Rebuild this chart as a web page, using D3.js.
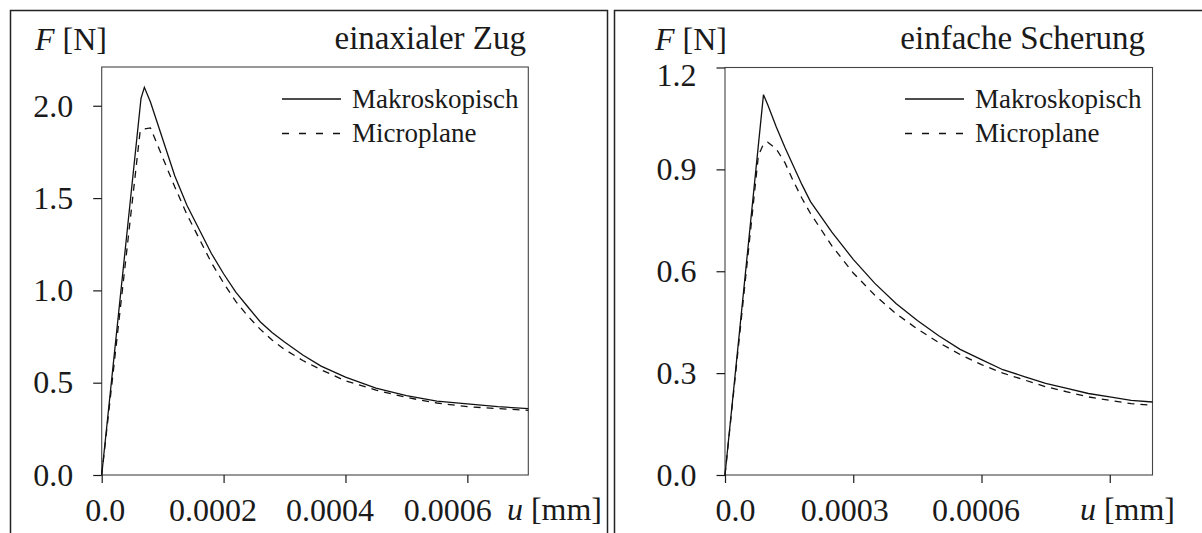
<!DOCTYPE html>
<html>
<head>
<meta charset="utf-8">
<script src="https://cdn.jsdelivr.net/npm/d3@7"></script>
<style>
  html, body { margin: 0; padding: 0; background: #fff; }
  svg { display: block; }
  text { font-family: "Liberation Serif", "Times New Roman", serif; fill: #1a1a1a; }
</style>
</head>
<body>
<svg id="chart" width="1202" height="533"></svg>
<script>
// Verschiebung u [mm] und Kraft F [N], einaxialer Zug
const zugU_makro = [0, 0.0000645, 0.00007, 0.00008, 0.00009, 0.0001, 0.00012, 0.00014, 0.00016, 0.00018,
  0.0002, 0.00022, 0.00024, 0.00026, 0.00028, 0.0003, 0.00033, 0.00036, 0.0004, 0.00045,
  0.0005, 0.00055, 0.0006, 0.00065, 0.0007];
const zugF_makro = [0, 2.04, 2.10, 2.02, 1.92, 1.82, 1.62, 1.46, 1.33, 1.20,
  1.09, 0.99, 0.91, 0.83, 0.77, 0.72, 0.65, 0.59, 0.53, 0.47,
  0.43, 0.40, 0.385, 0.37, 0.36];
const zugU_micro = [0, 0.000063, 0.00007, 0.00008, 0.00009, 0.0001, 0.00012, 0.00014, 0.00016, 0.00018,
  0.0002, 0.00022, 0.00024, 0.00026, 0.00028, 0.0003, 0.00033, 0.00036, 0.0004, 0.00045,
  0.0005, 0.00055, 0.0006, 0.00065, 0.0007];
const zugF_micro = [0, 1.86, 1.875, 1.88, 1.80, 1.72, 1.56, 1.41, 1.28, 1.15,
  1.04, 0.94, 0.86, 0.79, 0.73, 0.68, 0.62, 0.57, 0.51, 0.46,
  0.42, 0.39, 0.37, 0.36, 0.35];

// einfache Scherung
const scherU_makro = [0, 0.00009, 0.0001, 0.00012, 0.00014, 0.00016, 0.00018, 0.0002, 0.00025, 0.0003,
  0.00035, 0.0004, 0.00045, 0.0005, 0.00055, 0.0006, 0.00065, 0.0007, 0.00075, 0.0008,
  0.00085, 0.0009, 0.00095, 0.001];
const scherF_makro = [0, 1.12, 1.09, 1.025, 0.965, 0.91, 0.855, 0.805, 0.715, 0.635,
  0.565, 0.505, 0.455, 0.41, 0.37, 0.34, 0.31, 0.29, 0.27, 0.255,
  0.24, 0.23, 0.22, 0.215];
const scherU_micro = [0, 0.000078, 0.00009, 0.0001, 0.00012, 0.00014, 0.00016, 0.00018, 0.0002, 0.00025,
  0.0003, 0.00035, 0.0004, 0.00045, 0.0005, 0.00055, 0.0006, 0.00065, 0.0007, 0.00075,
  0.0008, 0.00085, 0.0009, 0.00095, 0.001];
const scherF_micro = [0, 0.94, 0.975, 0.98, 0.96, 0.92, 0.865, 0.815, 0.77, 0.675,
  0.595, 0.53, 0.475, 0.43, 0.39, 0.355, 0.325, 0.30, 0.28, 0.26,
  0.245, 0.23, 0.22, 0.21, 0.205];

// Achsenteilung
const zugUTicks = [0, 0.0002, 0.0004, 0.0006];
const zugUTickLabels = ["0.0", "0.0002", "0.0004", "0.0006"];
const zugFTicks = [0, 0.5, 1.0, 1.5, 2.0];
const zugFTickLabels = ["0.0", "0.5", "1.0", "1.5", "2.0"];
const scherUTicks = [0, 0.0003, 0.0006, 0.0009];
const scherUTickLabels = ["0.0", "0.0003", "0.0006", ""];
const scherFTicks = [0, 0.3, 0.6, 0.9, 1.2];
const scherFTickLabels = ["0.0", "0.3", "0.6", "0.9", "1.2"];

const seriesNames = ["Makroskopisch", "Microplane"];
const panelTitles = ["einaxialer Zug", "einfache Scherung"];

const svg = d3.select("#chart");
const ink = "#1a1a1a";
const serif = "Liberation Serif";

function drawPanel(p) {
  const g = svg.append("g");

  // outer frame of the panel
  g.append("rect")
    .attr("x", p.frame[0]).attr("y", 10.5)
    .attr("width", p.frame[1] - p.frame[0]).attr("height", 560)
    .attr("fill", "none").attr("stroke", "#222").attr("stroke-width", 1.5);

  const x = d3.scaleLinear().domain(p.xDomain).range(p.xRange);
  const y = d3.scaleLinear().domain(p.yDomain).range(p.yRange);

  // plot box
  g.append("rect")
    .attr("x", x(p.xDomain[0])).attr("y", y(p.yDomain[1]))
    .attr("width", x(p.xDomain[1]) - x(p.xDomain[0]))
    .attr("height", y(p.yDomain[0]) - y(p.yDomain[1]))
    .attr("fill", "none").attr("stroke", "#444").attr("stroke-width", 1.1);

  const xAxis = d3.axisBottom(x)
    .tickValues(p.xTicks)
    .tickFormat((d, i) => p.xLabels[i])
    .tickSize(8).tickPadding(15);
  const gx = g.append("g")
    .attr("transform", `translate(0,${y(0)})`)
    .call(xAxis);
  gx.select(".domain").remove();
  gx.selectAll("line").attr("stroke", ink).attr("stroke-width", 1.2);
  gx.selectAll("text")
    .attr("font-size", 32).attr("fill", ink).attr("font-family", serif)
    .attr("dx", (d, i) => p.xLabelShift[i]);

  const yAxis = d3.axisLeft(y)
    .tickValues(p.yTicks)
    .tickFormat((d, i) => p.yLabels[i])
    .tickSize(8.5).tickPadding(20);
  const gy = g.append("g")
    .attr("transform", `translate(${x(0)},0)`)
    .call(yAxis);
  gy.select(".domain").remove();
  gy.selectAll("line").attr("stroke", ink).attr("stroke-width", 1.2);
  gy.selectAll("text")
    .attr("font-size", 32).attr("fill", ink).attr("font-family", serif)
    .attr("text-anchor", "end").attr("x", -28.5);
  if (p.topLabelShift) {
    gy.selectAll(".tick").filter(d => d === p.yTicks[p.yTicks.length - 1])
      .select("text").attr("y", p.topLabelShift);
  }

  // curves
  const line = d3.line().x(d => x(d[0])).y(d => y(d[1]));
  p.series.forEach(s => {
    g.append("path")
      .datum(d3.zip(s.u, s.f))
      .attr("d", line)
      .attr("fill", "none")
      .attr("stroke", "#111")
      .attr("stroke-width", 1.3)
      .attr("stroke-dasharray", s.dash || null);
  });

  // axis titles
  const fy = g.append("text").attr("x", p.fLabelX).attr("y", 50).attr("font-size", 32);
  fy.append("tspan").attr("font-style", "italic").text("F");
  fy.append("tspan").text(" [N]");

  const ux = g.append("text").attr("x", p.uLabelRight).attr("y", 520)
    .attr("font-size", 32).attr("text-anchor", "end");
  ux.append("tspan").attr("font-style", "italic").text("u");
  ux.append("tspan").text(" [mm]");

  // panel title
  g.append("text").attr("x", p.titleRight).attr("y", 49)
    .attr("font-size", 33).attr("text-anchor", "end").text(p.title);

  // legend
  p.series.forEach((s, i) => {
    const ly = 99 + i * 34.5;
    g.append("line")
      .attr("x1", p.legendX).attr("x2", p.legendX + 59)
      .attr("y1", ly).attr("y2", ly)
      .attr("stroke", "#111").attr("stroke-width", 1.3)
      .attr("stroke-dasharray", s.dash ? "7,10" : null);
    g.append("text")
      .attr("x", p.legendX + 70).attr("y", ly + 8.5)
      .attr("font-size", 27).text(s.name);
  });
}

drawPanel({
  frame: [10.5, 607.5],
  xDomain: [0, 0.0007], xRange: [101.7, 528.3],
  yDomain: [0, 2.21], yRange: [475, 67],
  xTicks: zugUTicks, xLabels: zugUTickLabels, xLabelShift: [3, -11, -16, -20],
  yTicks: zugFTicks, yLabels: zugFTickLabels,
  series: [
    { name: seriesNames[0], u: zugU_makro, f: zugF_makro },
    { name: seriesNames[1], u: zugU_micro, f: zugF_micro, dash: "7,6" }
  ],
  title: panelTitles[0], titleRight: 526,
  fLabelX: 35, uLabelRight: 602,
  legendX: 282
});

drawPanel({
  frame: [614.5, 1203],
  xDomain: [0, 0.001], xRange: [725, 1152.5],
  yDomain: [0, 1.2], yRange: [475, 67.5],
  xTicks: scherUTicks, xLabels: scherUTickLabels, xLabelShift: [10, -9, -6, 0],
  yTicks: scherFTicks, yLabels: scherFTickLabels,
  topLabelShift: 7.5,
  series: [
    { name: seriesNames[0], u: scherU_makro, f: scherF_makro },
    { name: seriesNames[1], u: scherU_micro, f: scherF_micro, dash: "7,6" }
  ],
  title: panelTitles[1], titleRight: 1145,
  fLabelX: 655, uLabelRight: 1175,
  legendX: 905
});
</script>
</body>
</html>
